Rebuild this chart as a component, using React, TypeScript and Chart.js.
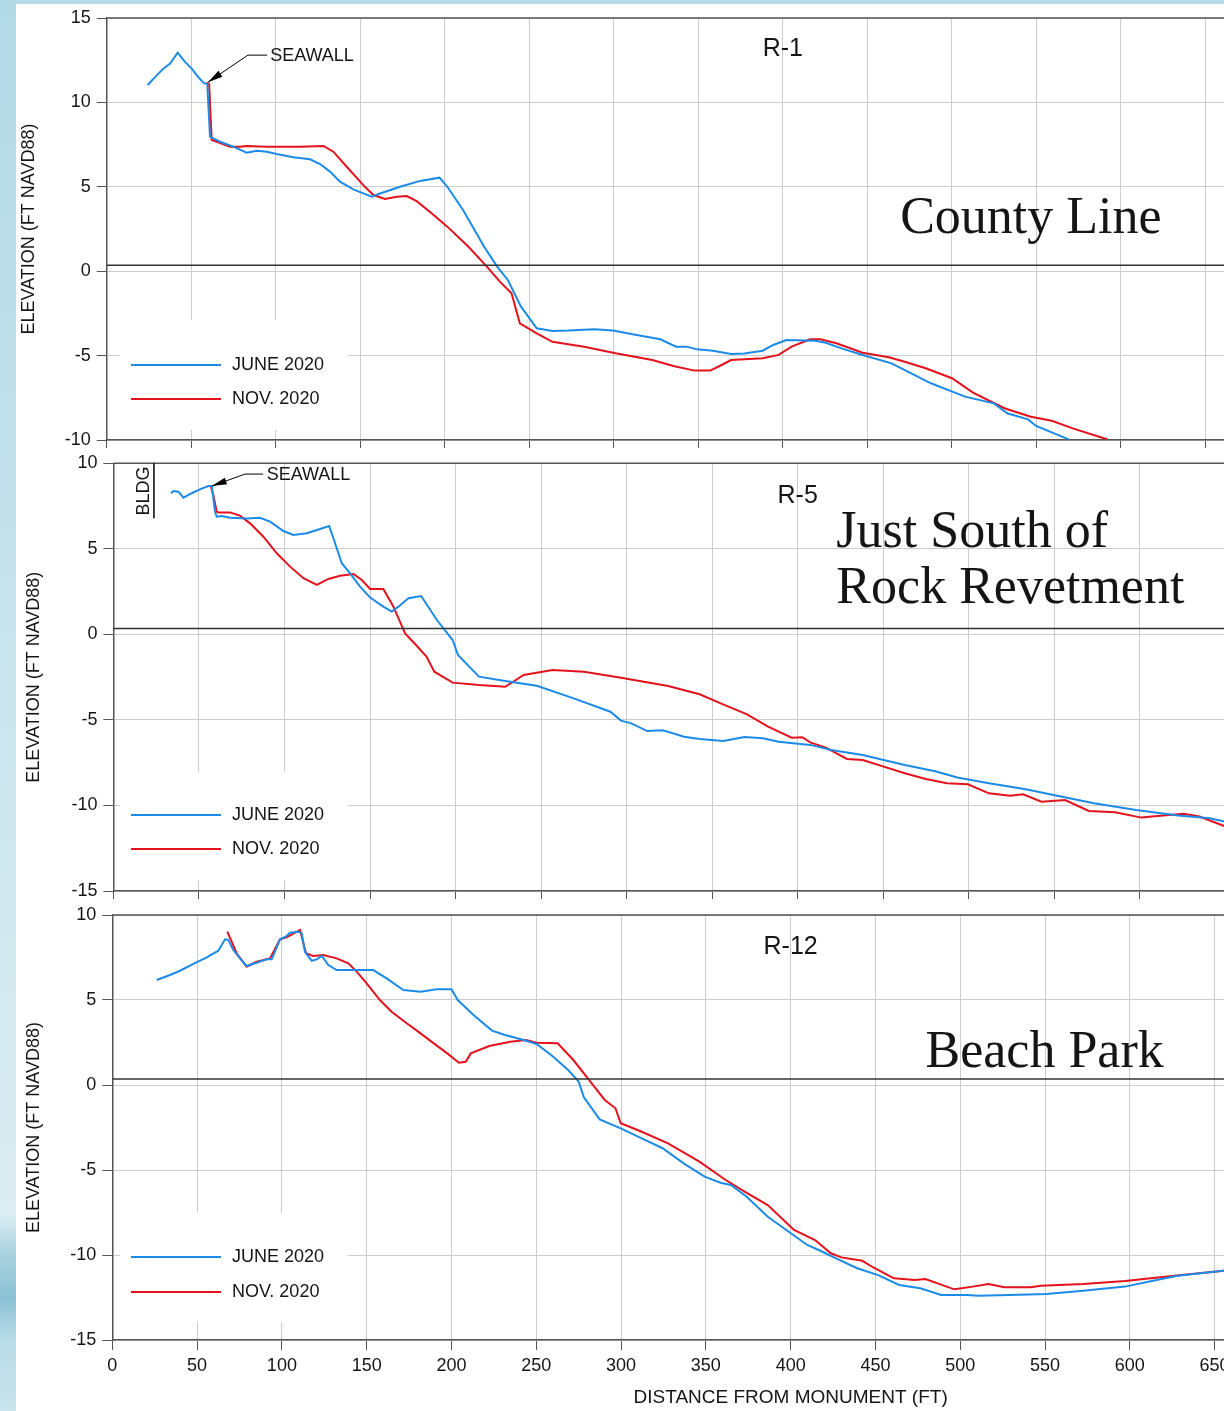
import React, { useEffect, useRef } from 'react';
import { Chart, registerables } from 'chart.js';

Chart.register(...registerables);

const SANS = '"Liberation Sans", Arial, Helvetica, sans-serif';
const SERIF = '"Liberation Serif", "Times New Roman", serif';
const BLUE = '#1c8be8';
const RED = '#e3121c';
const GRID = '#cccccc';
const AXIS = '#555555';
const TICK = '#555555';
const INK = '#151515';

// ---------- axis settings ----------
const X_MIN = 0;
const X_MAX = 800;
const X_STEP = 50;
const X_LABEL_LAST = 650;
const Y_STEP = 5;

// datum line (just above 0 ft NAVD88)
const datumX = [0, 800];
const datumY = [0.35, 0.35];

// ---------- R-1 (County Line) ----------
const r1JuneX = [24.2, 29.6, 33.5, 37.5, 42, 46.3, 50.3, 54.2, 57.6, 59.5, 61.1, 63.1, 67, 74.9, 82.8, 88.8, 94.7, 100.6, 110.4, 120.3, 126.2, 132.1, 138, 145.9, 151.8, 156.8, 161.7, 173.6, 185.4, 196.9, 201.5, 210.8, 223.3, 231, 237.3, 245.1, 254.4, 263.7, 273.1, 288.6, 299.5, 313.5, 327.5, 336.8, 343, 349.2, 358.6, 369.4, 377.2, 388.1, 394.3, 402.1, 419.2, 425.4, 434.7, 447.2, 464.3, 475.1, 487.6, 507.8, 524.9, 532.7, 545.1, 549.8, 569.1];
const r1JuneY = [11.03, 11.6, 12.0, 12.3, 12.95, 12.4, 12.0, 11.5, 11.13, 11.1, 7.97, 7.87, 7.67, 7.38, 7.02, 7.14, 7.08, 6.94, 6.75, 6.63, 6.35, 5.9, 5.3, 4.85, 4.61, 4.41, 4.6, 5.0, 5.35, 5.54, 5.0, 3.63, 1.45, 0.27, -0.52, -2.1, -3.38, -3.54, -3.52, -3.44, -3.52, -3.78, -4.03, -4.47, -4.47, -4.63, -4.71, -4.91, -4.87, -4.71, -4.37, -4.08, -4.12, -4.24, -4.57, -4.96, -5.46, -6.01, -6.64, -7.43, -7.83, -8.42, -8.78, -9.17, -9.96];
const r1NovX = [58.8, 60.6, 62.1, 65.1, 73, 78.9, 82.8, 94.7, 114.4, 128.2, 134.1, 142, 151.8, 157.8, 164.7, 171.6, 177.5, 183.4, 192.2, 201.5, 214, 224.9, 232.6, 239.5, 244.4, 254.4, 263.7, 282.4, 301.1, 322.8, 335.3, 347.7, 357, 361.7, 369.4, 388.1, 397.5, 405.2, 416.1, 422.3, 431.7, 447.2, 462.7, 472.1, 484.5, 500.1, 512.5, 531.1, 546.7, 559.1, 571.5, 591.8];
const r1NovY = [11.17, 11.1, 7.77, 7.67, 7.38, 7.38, 7.42, 7.38, 7.38, 7.42, 7.08, 6.19, 5.1, 4.51, 4.28, 4.41, 4.45, 4.15, 3.43, 2.64, 1.45, 0.27, -0.62, -1.31, -3.09, -3.68, -4.18, -4.47, -4.86, -5.26, -5.62, -5.89, -5.89, -5.66, -5.26, -5.16, -4.96, -4.47, -4.03, -4.03, -4.27, -4.83, -5.1, -5.36, -5.75, -6.34, -7.19, -8.12, -8.62, -8.86, -9.31, -9.96];

// ---------- R-5 (Just South of Rock Revetment) ----------
const r5JuneX = [33.7, 35, 38, 40.9, 45.8, 50.6, 55.5, 57.5, 59.4, 60.4, 63.3, 68.2, 78, 85.7, 91.6, 99.4, 105.2, 113, 120.8, 126.1, 128.6, 133.5, 138.4, 144.2, 150.1, 157.8, 162.7, 166.6, 172.5, 179.9, 189.1, 198.3, 201.4, 213.7, 229.1, 247.5, 269.1, 290.5, 296.7, 302.8, 312, 321.2, 333.6, 342.7, 356.6, 368.9, 379.7, 388.9, 407.3, 419.6, 438, 462.6, 481, 493.3, 511.8, 533.3, 551.7, 573.2, 597.8, 622.4, 640.9, 652];
const r5JuneY = [8.25, 8.38, 8.34, 7.99, 8.25, 8.48, 8.67, 8.67, 7.17, 6.88, 6.92, 6.82, 6.78, 6.82, 6.59, 6.04, 5.81, 5.91, 6.16, 6.33, 5.62, 4.16, 3.57, 2.79, 2.15, 1.62, 1.33, 1.62, 2.11, 2.24, 0.84, -0.33, -1.2, -2.47, -2.72, -3.0, -3.74, -4.52, -5.04, -5.2, -5.65, -5.6, -5.98, -6.11, -6.23, -6.0, -6.07, -6.27, -6.46, -6.76, -7.05, -7.63, -8.02, -8.37, -8.7, -9.05, -9.43, -9.87, -10.26, -10.59, -10.75, -11.0];
const r5NovX = [56.9, 58.4, 60.4, 61.4, 68.2, 74, 79.9, 87.7, 95.5, 103.3, 111.1, 118.9, 125.7, 132.5, 140.3, 145.2, 150.1, 157.8, 163.7, 170.5, 176.9, 183, 187.6, 198.3, 213.7, 229.1, 239.8, 256.7, 275.1, 296.7, 324.3, 342.7, 355, 370.4, 382.7, 396.5, 402.7, 407.3, 416.5, 428.8, 438, 450.3, 462.6, 474.9, 487.2, 499.5, 511.8, 524.1, 531.7, 542.5, 556.3, 570.2, 585.6, 600.9, 610.2, 625.6, 634.8, 652];
const r5NovY = [8.67, 8.15, 7.17, 7.13, 7.13, 6.94, 6.49, 5.71, 4.74, 3.96, 3.28, 2.89, 3.24, 3.43, 3.53, 3.18, 2.65, 2.65, 1.62, 0.06, -0.62, -1.3, -2.18, -2.82, -2.96, -3.06, -2.37, -2.08, -2.18, -2.53, -3.02, -3.5, -4.03, -4.67, -5.39, -6.04, -6.01, -6.31, -6.62, -7.28, -7.34, -7.73, -8.12, -8.45, -8.7, -8.76, -9.29, -9.43, -9.35, -9.78, -9.68, -10.32, -10.4, -10.71, -10.61, -10.48, -10.65, -11.3];

// ---------- R-12 (Beach Park) ----------
const r12JuneX = [26.2, 34, 39.9, 47.8, 55.7, 62.5, 64.5, 66.5, 68.4, 71.4, 75.3, 79.2, 85.1, 91, 94, 98.9, 102.8, 104.8, 109.7, 111.7, 113.6, 117.6, 120.5, 123.5, 127.4, 132.3, 140.2, 153.9, 161.8, 171.6, 182, 191.3, 200, 203.7, 213, 223.9, 231.6, 240.9, 250.2, 259.5, 268.8, 275, 278.1, 287.4, 299.8, 312.2, 324.5, 336.9, 349.3, 358.6, 364.8, 374.1, 386.5, 398.9, 409.8, 417.5, 426.8, 439.2, 451.6, 464, 476.4, 488.8, 504.2, 510.4, 529.1, 550.8, 572.5, 597.2, 615.8, 628.2, 658];
const r12JuneY = [6.18, 6.47, 6.72, 7.12, 7.51, 7.9, 8.24, 8.57, 8.53, 7.94, 7.45, 7.0, 7.19, 7.39, 7.39, 8.57, 8.76, 8.96, 9.02, 8.92, 7.84, 7.31, 7.39, 7.59, 7.06, 6.76, 6.76, 6.76, 6.27, 5.59, 5.49, 5.63, 5.63, 5.0, 4.12, 3.2, 2.94, 2.69, 2.41, 1.71, 0.88, 0.2, -0.72, -2.02, -2.55, -3.14, -3.72, -4.61, -5.39, -5.75, -5.88, -6.57, -7.75, -8.63, -9.41, -9.75, -10.2, -10.78, -11.18, -11.76, -11.96, -12.35, -12.35, -12.39, -12.35, -12.29, -12.1, -11.86, -11.47, -11.22, -10.9];
const r12NovX = [67.8, 70.4, 73.3, 79.2, 85.1, 93, 98.9, 102.8, 110.7, 114.2, 118.5, 124.4, 132.3, 139.2, 144.1, 150, 157.8, 164.7, 173.6, 179, 188.2, 197.5, 204.4, 208.4, 211.4, 222.3, 234.7, 244, 250.2, 262.6, 271.9, 281.2, 290.4, 296.7, 299.8, 312.2, 327.7, 346.2, 361.7, 374.1, 386.5, 402, 414.4, 423.7, 429.9, 442.3, 448.5, 460.9, 473.3, 479.5, 496.5, 507.4, 516.7, 526, 541.5, 547.6, 572.5, 597.2, 622, 658];
const r12NovY = [9.02, 8.43, 7.75, 6.96, 7.25, 7.45, 8.57, 8.69, 9.12, 7.75, 7.59, 7.65, 7.45, 7.16, 6.67, 5.98, 5.0, 4.31, 3.63, 3.24, 2.55, 1.86, 1.31, 1.37, 1.86, 2.29, 2.55, 2.65, 2.49, 2.45, 1.47, 0.29, -0.88, -1.37, -2.25, -2.75, -3.43, -4.51, -5.59, -6.34, -7.06, -8.53, -9.12, -9.9, -10.14, -10.34, -10.72, -11.37, -11.47, -11.41, -12.02, -11.86, -11.71, -11.9, -11.9, -11.81, -11.71, -11.53, -11.27, -10.9];

const seriesLabels = ['JUNE 2020', 'NOV. 2020'];
const profileNames = ['R-1', 'R-5', 'R-12'];

const pts = (xs: number[], ys: number[]) => xs.map((x, i) => ({ x, y: ys[i] }));

const decorPlugin = {
  id: 'decor',
  beforeDatasetsDraw(chart: any, _a: any, o: any) {
    if (!o || !o.legend) return;
    const { ctx, chartArea: ca } = chart;
    const lg = o.legend;
    ctx.save();
    ctx.fillStyle = '#ffffff';
    ctx.fillRect(lg.boxLeft, ca.bottom - lg.boxTop, lg.boxWidth, lg.boxTop - lg.boxBottom);
    ctx.strokeStyle = AXIS;
    ctx.lineWidth = 1.5;
    ctx.beginPath();
    ctx.moveTo(ca.left, ca.top);
    ctx.lineTo(ca.right, ca.top);
    ctx.stroke();
    ctx.restore();
  },
  afterDatasetsDraw(chart: any, _a: any, o: any) {
    if (!o || !o.legend) return;
    const { ctx, chartArea: ca, scales } = chart;
    const X = (v: number) => scales.x.getPixelForValue(v);
    const Y = (v: number) => scales.y.getPixelForValue(v);
    ctx.save();
    ctx.fillStyle = INK;
    // profile name
    ctx.font = `25px ${SANS}`;
    ctx.textAlign = 'center';
    ctx.textBaseline = 'middle';
    ctx.fillText(o.title, (ca.left + ca.right) / 2, ca.top + o.titleDy);
    // place names
    ctx.font = `52px ${SERIF}`;
    ctx.textAlign = 'left';
    ctx.textBaseline = 'alphabetic';
    (o.names || []).forEach((n: any) => ctx.fillText(n.text, X(n.x), Y(n.y)));
    // seawall callout
    const s = o.seawall;
    if (s && s.tip) {
      const tx = X(s.tip[0]), ty = Y(s.tip[1]);
      const ex = X(s.elbow[0]), ey = Y(s.elbow[1]);
      const hx = X(s.end);
      ctx.strokeStyle = '#000';
      ctx.lineWidth = 1;
      ctx.beginPath();
      ctx.moveTo(hx, ey);
      ctx.lineTo(ex, ey);
      ctx.lineTo(tx, ty);
      ctx.stroke();
      const ang = Math.atan2(ey - ty, ex - tx);
      const L = 15, W = 3.5;
      const bx = tx + Math.cos(ang) * L, by = ty + Math.sin(ang) * L;
      ctx.fillStyle = '#000';
      ctx.beginPath();
      ctx.moveTo(tx, ty);
      ctx.lineTo(bx - Math.sin(ang) * W, by + Math.cos(ang) * W);
      ctx.lineTo(bx + Math.sin(ang) * W, by - Math.cos(ang) * W);
      ctx.closePath();
      ctx.fill();
      ctx.fillStyle = INK;
      ctx.font = `18px ${SANS}`;
      ctx.textAlign = 'left';
      ctx.textBaseline = 'middle';
      ctx.fillText('SEAWALL', X(s.text[0]), Y(s.text[1]));
    }
    // building marker
    if (o.bldg) {
      const b = o.bldg;
      ctx.save();
      ctx.fillStyle = INK;
      ctx.translate(X(b.text[0]), Y(b.text[1]));
      ctx.rotate(-Math.PI / 2);
      ctx.textAlign = 'center';
      ctx.textBaseline = 'middle';
      ctx.font = `18px ${SANS}`;
      ctx.fillText('BLDG', 0, 0);
      ctx.restore();
      ctx.strokeStyle = '#000';
      ctx.lineWidth = 1.5;
      ctx.beginPath();
      ctx.moveTo(X(b.line[0]), Y(b.line[1]));
      ctx.lineTo(X(b.line[0]), Y(b.line[2]));
      ctx.stroke();
    }
    // legend
    const lg = o.legend;
    const colors = [BLUE, RED];
    lg.rows.forEach((off: number, i: number) => {
      const y = ca.bottom - off;
      ctx.strokeStyle = colors[i];
      ctx.lineWidth = 2;
      ctx.beginPath();
      ctx.moveTo(lg.lineLeft, y);
      ctx.lineTo(lg.lineLeft + lg.lineLen, y);
      ctx.stroke();
      ctx.fillStyle = INK;
      ctx.font = `18px ${SANS}`;
      ctx.textAlign = 'left';
      ctx.textBaseline = 'middle';
      ctx.fillText(seriesLabels[i], lg.lineLeft + lg.lineLen + 11, y);
    });
    ctx.restore();
  },
};

type PanelCfg = {
  top: number;
  width: number;
  height: number;
  yMin: number;
  yMax: number;
  yAxisWidth: number;
  yTitlePad: number;
  padTop: number;
  xHeight: number;
  showXLabels: boolean;
  june: { x: number; y: number }[];
  nov: { x: number; y: number }[];
  decor: any;
};

const legendBase = { boxLeft: 104, boxWidth: 228, lineLeft: 115, lineLen: 90 };

const panels: PanelCfg[] = [
  {
    top: 4, width: 1443, height: 448, yMin: -10, yMax: 15, yAxisWidth: 90.7, yTitlePad: 2.2, padTop: 14, xHeight: 12, showXLabels: false,
    june: pts(r1JuneX, r1JuneY), nov: pts(r1NovX, r1NovY),
    decor: {
      title: profileNames[0], titleDy: 31,
      names: [{ text: 'County Line', x: 469.4, y: 2.26 }],
      seawall: { tip: [59.9, 11.2], elbow: [83.6, 12.8], end: 94.9, text: [96.7, 12.75] },
      legend: { ...legendBase, boxTop: 120, boxBottom: 10, rows: [75, 41] },
    },
  },
  {
    top: 452, width: 1466, height: 451, yMin: -15, yMax: 10, yAxisWidth: 97.4, yTitlePad: 7.7, padTop: 11.3, xHeight: 12, showXLabels: false,
    june: pts(r5JuneX, r5JuneY), nov: pts(r5NovX, r5NovY),
    decor: {
      title: profileNames[1], titleDy: 32.5,
      names: [
        { text: 'Just South of', x: 422.6, y: 5.11 },
        { text: 'Rock Revetment', x: 422.6, y: 1.84 },
      ],
      seawall: { tip: [57.5, 8.67], elbow: [77, 9.37], end: 87.5, text: [89.6, 9.32] },
      bldg: { text: [17.9, 8.38], line: [23.7, 10, 6.79] },
      legend: { ...legendBase, boxTop: 119, boxBottom: 11, rows: [76, 42] },
    },
  },
  {
    top: 903, width: 1453, height: 508, yMin: -15, yMax: 10, yAxisWidth: 96.3, yTitlePad: 7.7, padTop: 12, xHeight: 71, showXLabels: true,
    june: pts(r12JuneX, r12JuneY), nov: pts(r12NovX, r12NovY),
    decor: {
      title: profileNames[2], titleDy: 32.5,
      names: [{ text: 'Beach Park', x: 479.5, y: 1.06 }],
      legend: { ...legendBase, boxTop: 127, boxBottom: 18, rows: [83, 48] },
    },
  },
];

function Panel({ cfg }: { cfg: PanelCfg }) {
  const ref = useRef<HTMLCanvasElement | null>(null);
  useEffect(() => {
    if (!ref.current) return;
    const chart = new Chart(ref.current, {
      type: 'line',
      data: {
        datasets: [
          { data: pts(datumX, datumY), borderColor: '#333333', borderWidth: 1.5, pointRadius: 0 },
          { label: seriesLabels[0], data: cfg.june, borderColor: BLUE, borderWidth: 2, pointRadius: 0 },
          { label: seriesLabels[1], data: cfg.nov, borderColor: RED, borderWidth: 2, pointRadius: 0 },
        ],
      },
      options: {
        animation: false,
        responsive: false,
        devicePixelRatio: 1,
        events: [],
        layout: { padding: { top: cfg.padTop, left: 0, right: 0, bottom: 0 } },
        elements: { line: { tension: 0 }, point: { radius: 0 } },
        plugins: {
          legend: { display: false },
          tooltip: { enabled: false },
          decor: cfg.decor,
        } as any,
        scales: {
          x: {
            type: 'linear',
            min: X_MIN,
            max: X_MAX,
            afterFit: (s: any) => {
              s.height = cfg.xHeight;
              s.paddingLeft = 0;
              s.paddingRight = 0;
              s.paddingTop = 0;
              s.paddingBottom = 0;
            },
            ticks: {
              display: cfg.showXLabels,
              stepSize: X_STEP,
              autoSkip: false,
              maxRotation: 0,
              padding: 5,
              color: INK,
              font: { size: 18, family: SANS },
              callback: (v: any) => (Number(v) <= X_LABEL_LAST ? String(v) : ''),
            },
            grid: { color: GRID, lineWidth: 1, drawTicks: true, tickLength: cfg.showXLabels ? 10 : 8, tickColor: TICK, tickWidth: 1 },
            border: { display: true, color: AXIS, width: 1.5 },
            title: {
              display: cfg.showXLabels,
              text: 'DISTANCE FROM MONUMENT (FT)',
              color: INK,
              font: { size: 19, family: SANS },
              padding: { top: 0, bottom: 2 },
            },
          },
          y: {
            type: 'linear',
            min: cfg.yMin,
            max: cfg.yMax,
            afterFit: (s: any) => {
              s.width = cfg.yAxisWidth;
              s.paddingTop = 0;
              s.paddingBottom = 0;
              s.paddingLeft = 0;
              s.paddingRight = 0;
            },
            ticks: { stepSize: Y_STEP, padding: 6, color: INK, font: { size: 18, family: SANS } },
            grid: { color: GRID, lineWidth: 1, drawTicks: true, tickLength: 10, tickColor: TICK, tickWidth: 1 },
            border: { display: true, color: AXIS, width: 1.5 },
            title: {
              display: true,
              text: 'ELEVATION (FT NAVD88)',
              color: INK,
              font: { size: 18, family: SANS },
              padding: { top: cfg.yTitlePad, bottom: 0 },
            },
          },
        },
      },
      plugins: [decorPlugin as any],
    } as any);
    return () => chart.destroy();
  }, [cfg]);
  return (
    <canvas
      ref={ref}
      width={cfg.width}
      height={cfg.height}
      style={{ position: 'absolute', left: 16, top: cfg.top, width: cfg.width, height: cfg.height, display: 'block' }}
    />
  );
}

export default function App() {
  return (
    <div
      style={{
        position: 'absolute',
        left: 0,
        top: 0,
        width: 1224,
        height: 1411,
        overflow: 'hidden',
        background: '#b6dce8',
      }}
    >
      <div
        style={{
          position: 'absolute',
          left: 0,
          top: 0,
          width: 16,
          height: 1411,
          background:
            'linear-gradient(to bottom, #b2d9e6 0%, #c0e0eb 30%, #cfe7ef 60%, #dcedf3 86%, #a8d1df 89%, #8cc1d5 92%, #b9dce8 95%, #c9e4ed 100%)',
        }}
      />
      <div style={{ position: 'absolute', left: 16, top: 4, width: 1208, height: 1407, background: '#ffffff' }} />
      {panels.map((p, i) => (
        <Panel key={i} cfg={p} />
      ))}
    </div>
  );
}
